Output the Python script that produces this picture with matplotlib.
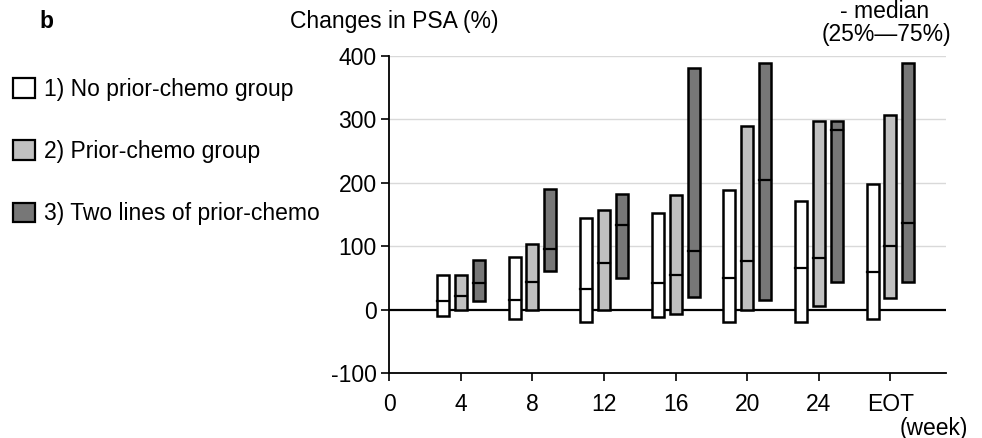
import matplotlib
matplotlib.use("Agg")
import matplotlib.pyplot as plt
from matplotlib.patches import Patch

plt.rcParams['font.family'] = ['Liberation Sans', 'DejaVu Sans']
plt.rcParams['axes.unicode_minus'] = False

# week positions (EOT drawn at 28)
weeks = [4, 8, 12, 16, 20, 24, 28]
week_labels = ["0", "4", "8", "12", "16", "20", "24", "EOT"]

groups = ["1) No prior-chemo group", "2) Prior-chemo group", "3) Two lines of prior-chemo"]
colors = ["#ffffff", "#c0c0c0", "#777777"]

# 25th percentile, median, 75th percentile for each group
q1_no = [-10, -14, -20, -12, -20, -19, -14]
med_no = [14, 15, 33, 42, 50, 66, 59]
q3_no = [55, 83, 145, 152, 188, 171, 198]

q1_prior = [-1, -1, 0, -6, 0, 6, 18]
med_prior = [21, 44, 74, 55, 77, 81, 101]
q3_prior = [54, 104, 157, 180, 289, 297, 307]

q1_two = [14, 61, 50, 20, 16, 44, 44]
med_two = [42, 95, 134, 93, 205, 283, 137]
q3_two = [78, 190, 183, 381, 388, 297, 388]

data = [(q1_no, med_no, q3_no), (q1_prior, med_prior, q3_prior), (q1_two, med_two, q3_two)]

fs = 16.5
fig = plt.figure(figsize=(9.82, 4.38), dpi=100)
ax = fig.add_axes([0.3964, 0.1477, 0.5669, 0.7251])

width = 0.67
for g, (q1, med, q3) in enumerate(data):
    xs = [w + (g - 1) for w in weeks]
    heights = [b - a for a, b in zip(q1, q3)]
    ax.bar(xs, heights, bottom=q1, width=width, color=colors[g],
           edgecolor="black", linewidth=1.8, zorder=3)
    for x, m in zip(xs, med):
        ax.plot([x - width / 2, x + width / 2], [m, m], color="black",
                linewidth=1.6, zorder=4)

for yv in [100, 200, 300, 400]:
    ax.axhline(yv, color="#d9d9d9", linewidth=1, zorder=1)
ax.axhline(0, color="black", linewidth=1.6, zorder=2)

ax.set_xlim(0, 31.1)
ax.set_ylim(-100, 400)
ax.set_yticks([-100, 0, 100, 200, 300, 400])
ax.set_xticks([0] + weeks)
ax.set_xticklabels(week_labels)
ax.tick_params(axis="both", labelsize=fs, width=1.2, length=6, color="black")
ax.tick_params(axis="x", pad=8)
ax.tick_params(axis="y", pad=3)
for s in ["top", "right"]:
    ax.spines[s].set_visible(False)
for s in ["left", "bottom"]:
    ax.spines[s].set_linewidth(1.3)

fig.text(0.04, 0.95, "b", fontsize=fs, fontweight="bold", va="center", ha="left")
fig.text(0.401, 0.95, "Changes in PSA (%)", fontsize=fs, va="center", ha="center")
fig.text(0.901, 0.973, "- median", fontsize=fs, va="center", ha="center")
fig.text(0.903, 0.922, "(25%\u201475%)", fontsize=fs, va="center", ha="center")
fig.text(0.986, 0.022, "(week)", fontsize=fs, va="center", ha="right")

handles = [Patch(facecolor=c, edgecolor="black", linewidth=1.6) for c in colors]
fig.legend(handles, groups, loc="upper left", bbox_to_anchor=(-0.008, 0.87),
           frameon=False, fontsize=fs, handlelength=0.95, handleheight=0.95,
           handletextpad=0.4, labelspacing=1.72, borderaxespad=0.5)

fig.savefig("out.png", dpi=100)
